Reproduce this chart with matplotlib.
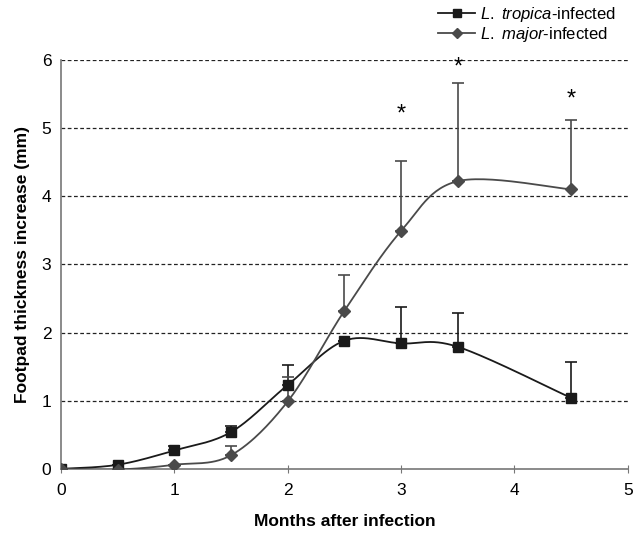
import numpy as np
import matplotlib.pyplot as plt
from matplotlib.lines import Line2D

plt.rcParams['font.family'] = ['Liberation Sans', 'DejaVu Sans']
plt.rcParams['mathtext.fontset'] = 'custom'
plt.rcParams['mathtext.rm'] = 'Liberation Sans'
plt.rcParams['mathtext.it'] = 'Liberation Sans:italic'

months = [0, 0.5, 1, 1.5, 2, 2.5, 3, 3.5, 4.5]
tropica = [0, 0.06, 0.27, 0.54, 1.23, 1.88, 1.84, 1.79, 1.04]
tropica_err = [0, 0, 0.07, 0.09, 0.30, 0, 0.53, 0.49, 0.53]
major = [0, -0.01, 0.06, 0.20, 0.99, 2.32, 3.49, 4.22, 4.10]
major_err = [0, 0, 0, 0.14, 0.35, 0.53, 1.03, 1.44, 1.02]
star_x = [3, 3.5, 4.5]
star_y = [5.2, 5.88, 5.42]


def smooth(x, y, n=30):
    # Excel-style smoothed line: cubic Bezier through the points
    x = np.asarray(x, float)
    y = np.asarray(y, float)
    px = np.concatenate([[x[0]], x, [x[-1]]])
    py = np.concatenate([[y[0]], y, [y[-1]]])
    xs, ys = [], []
    t = np.linspace(0, 1, n)
    for i in range(1, len(px) - 2):
        p0 = np.array([px[i], py[i]])
        p3 = np.array([px[i + 1], py[i + 1]])
        p1 = p0 + (np.array([px[i + 1], py[i + 1]]) - np.array([px[i - 1], py[i - 1]])) / 6
        p2 = p3 - (np.array([px[i + 2], py[i + 2]]) - np.array([px[i], py[i]])) / 6
        b = ((1 - t) ** 3)[:, None] * p0 + (3 * (1 - t) ** 2 * t)[:, None] * p1 \
            + (3 * (1 - t) * t ** 2)[:, None] * p2 + (t ** 3)[:, None] * p3
        xs.extend(b[:, 0])
        ys.extend(b[:, 1])
    return xs, ys


fig = plt.figure(figsize=(6.42, 5.34), dpi=100)
ax = fig.add_axes([0.095, 0.122, 0.883, 0.766])

for v in range(1, 7):
    ax.axhline(v, color='#222222', lw=0.9, ls=(0, (3, 2)), zorder=0)

tc = '#1a1a1a'
mc = '#4a4a4a'

ax.errorbar(months, tropica, yerr=[np.zeros(len(months)), tropica_err], fmt='none',
            ecolor=tc, elinewidth=1.2, capsize=4, capthick=1.2, zorder=2)
ax.errorbar(months, major, yerr=[np.zeros(len(months)), major_err], fmt='none',
            ecolor=mc, elinewidth=1.2, capsize=4, capthick=1.2, zorder=2)

sx, sy = smooth(months, tropica)
ax.plot(sx, sy, color=tc, lw=1.3, zorder=3)
ax.plot(months, tropica, 's', color=tc, ms=7, zorder=4)
sx, sy = smooth(months, major)
ax.plot(sx, sy, color=mc, lw=1.3, zorder=3)
ax.plot(months, major, 'D', color=mc, ms=6.5, zorder=4)

for x, y in zip(star_x, star_y):
    ax.text(x, y, '*', ha='center', va='center', fontsize=17)

ax.set_xlim(0, 5)
ax.set_ylim(0, 6)
ax.set_xticks(range(6))
ax.set_yticks(range(7))
ax.tick_params(axis='x', labelsize=12.5, direction='inout', length=6, color='#777777', pad=7)
ax.tick_params(axis='y', labelsize=12.5, length=0, pad=7)
for s in ['top', 'right']:
    ax.spines[s].set_visible(False)
for s in ['left', 'bottom']:
    ax.spines[s].set_color('#777777')
    ax.spines[s].set_linewidth(1.2)

ax.set_xlabel('Months after infection', fontsize=12.5, fontweight='bold', labelpad=12)
ax.set_ylabel('Footpad thickness increase (mm)', fontsize=12.5, fontweight='bold', labelpad=8)

handles = [Line2D([], [], color=tc, marker='s', ms=6, lw=1.3),
           Line2D([], [], color=mc, marker='D', ms=5, lw=1.3)]
labels = [r'$\mathit{L.\ tropica}$-infected', r'$\mathit{L.\ major}$-infected']
fig.legend(handles, labels, loc='upper right', bbox_to_anchor=(0.975, 1.01), frameon=False,
           fontsize=12, handlelength=2.2, handletextpad=0.3, labelspacing=0.1,
           borderaxespad=0.2)

fig.savefig('out.png', dpi=100)
